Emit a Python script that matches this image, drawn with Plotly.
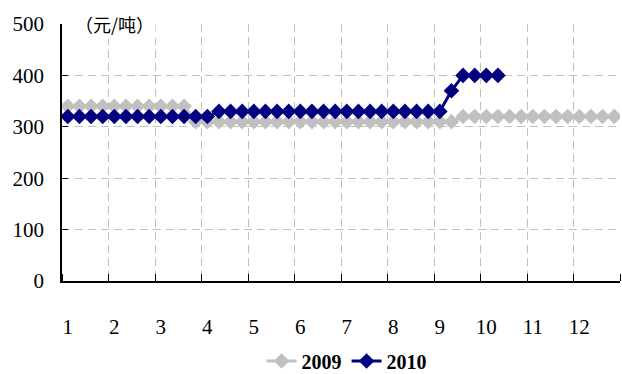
import plotly.graph_objects as go

# weekly points, 4 per month, 48 weeks
weeks = list(range(48))
month_labels = ["1", "2", "3", "4", "5", "6", "7", "8", "9", "10", "11", "12"]

price_2009 = [340, 340, 340, 340, 340, 340, 340, 340, 340, 340, 340,
              310, 310, 310, 310, 310, 310, 310, 310, 310, 310, 310, 310,
              310, 310, 310, 310, 310, 310, 310, 310, 310, 310, 310,
              320, 320, 320, 320, 320, 320, 320, 320, 320, 320, 320, 320, 320, 320]
price_2010 = [320, 320, 320, 320, 320, 320, 320, 320, 320, 320, 320, 320, 320,
              330, 330, 330, 330, 330, 330, 330, 330, 330, 330, 330, 330, 330,
              330, 330, 330, 330, 330, 330, 330,
              370, 400, 400, 400, 400]

y_ticks = [0, 100, 200, 300, 400, 500]

serif = "Liberation Serif, Times New Roman, serif"
grid_col = "#C0C0C0"

fig = go.Figure()
fig.add_trace(go.Scatter(
    x=weeks[:len(price_2009)], y=price_2009, name="2009", mode="lines+markers",
    line=dict(color="#C0C0C0", width=3),
    marker=dict(symbol="diamond", size=12, color="#C0C0C0"),
))
fig.add_trace(go.Scatter(
    x=weeks[:len(price_2010)], y=price_2010, name="2010", mode="lines+markers",
    line=dict(color="#000080", width=3),
    marker=dict(symbol="diamond", size=12, color="#000080"),
))

fig.update_layout(
    width=622, height=374,
    margin=dict(l=62, r=2, t=24, b=93, autoexpand=False),
    paper_bgcolor="white", plot_bgcolor="white",
    font=dict(family=serif, size=21, color="black"),
    showlegend=True,
    legend=dict(orientation="h", x=0.51, xanchor="center",
                yref="container", y=1 - 361 / 374, yanchor="middle",
                font=dict(family=serif, size=20, color="black", weight="bold"),
                itemwidth=30, tracegroupgap=0, borderwidth=0,
                bgcolor="rgba(0,0,0,0)"),
    xaxis=dict(
        range=[-0.5, 47.5], tickmode="array",
        tickvals=[w for w in weeks if w % 4 == 0], ticktext=month_labels,
        ticks="", showgrid=False, zeroline=False, automargin=False,
        showline=True, linecolor="black", linewidth=1.5,
        ticklabelstandoff=26,
        minor=dict(tickmode="linear", tick0=-0.5, dtick=4, ticks="inside", ticklen=7,
                   tickcolor="black", showgrid=True, gridcolor=grid_col,
                   griddash="8px,5px", gridwidth=1),
    ),
    yaxis=dict(
        range=[0, 500], tickvals=y_ticks, ticks="inside", ticklen=6, tickcolor="black",
        showgrid=True, gridcolor=grid_col, griddash="8px,5px", gridwidth=1,
        zeroline=False, showline=True, linecolor="black", linewidth=1.5,
        ticklabelstandoff=12, automargin=False,
    ),
)

fig.add_annotation(
    text="（元/吨）", xref="paper", yref="paper", x=0.02, y=1.0,
    xanchor="left", yanchor="middle", showarrow=False,
    font=dict(family="Noto Sans CJK SC", size=18, color="black"),
    bgcolor="white",
)

fig.write_html("out.html")
